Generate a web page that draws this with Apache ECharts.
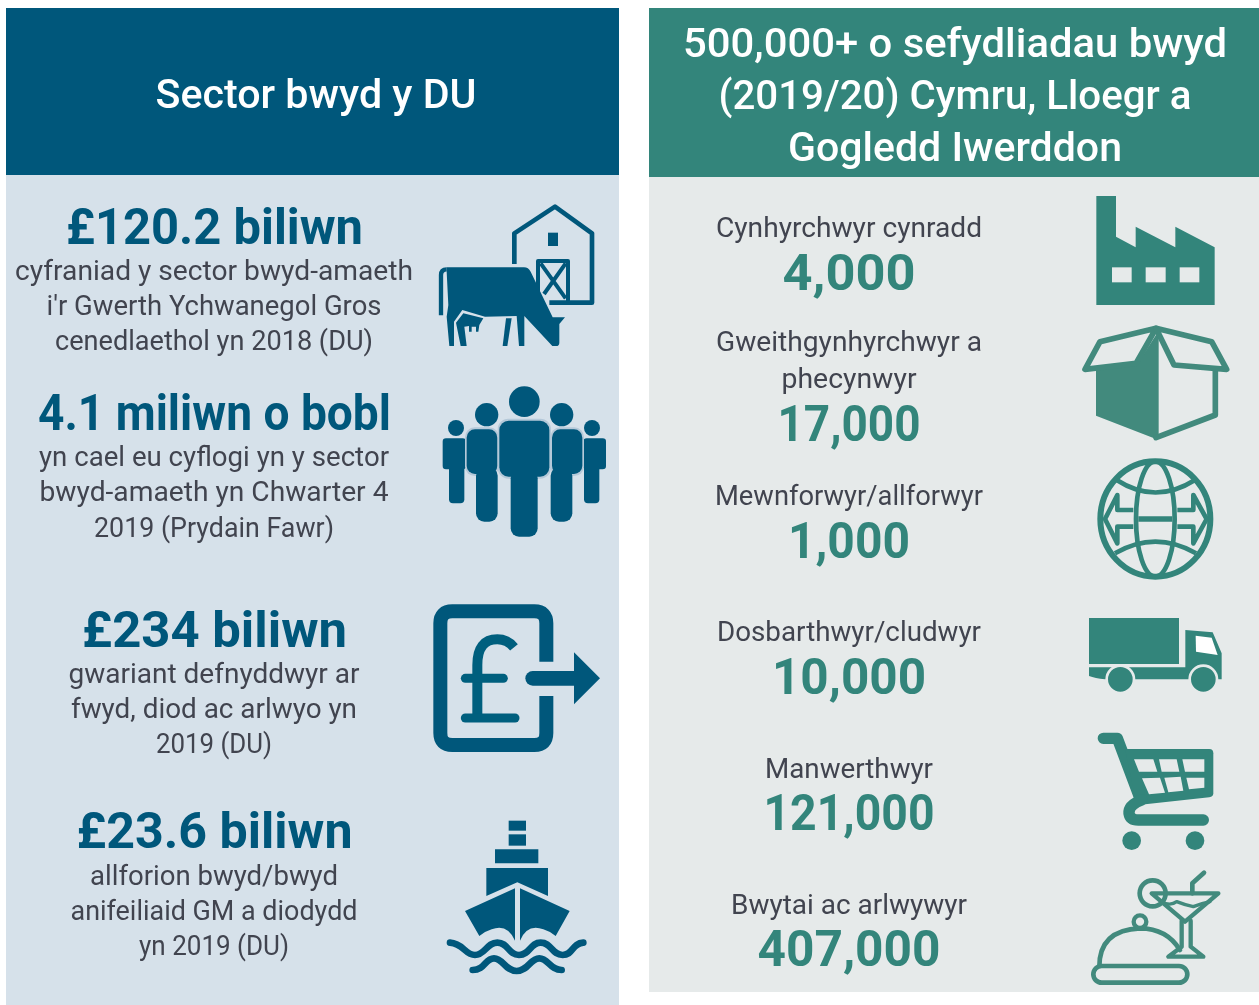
<!DOCTYPE html>
<html>
<head>
<meta charset="utf-8">
<style>
  html, body { margin: 0; padding: 0; background: #fff; }
  #chart { width: 1259px; height: 1005px; }
</style>
<script src="https://cdn.jsdelivr.net/npm/echarts@6/dist/echarts.min.js"></script>
</head>
<body>
<div id="chart"></div>
<script>
const leftTitle = 'Sector bwyd y DU';
const leftValues = ['£120.2 biliwn', '4.1 miliwn o bobl', '£234 biliwn', '£23.6 biliwn'];
const leftCaptions = [
  ['cyfraniad y sector bwyd-amaeth', "i'r Gwerth Ychwanegol Gros", 'cenedlaethol yn 2018 (DU)'],
  ['yn cael eu cyflogi yn y sector', 'bwyd-amaeth yn Chwarter 4', '2019 (Prydain Fawr)'],
  ['gwariant defnyddwyr ar', 'fwyd, diod ac arlwyo yn', '2019 (DU)'],
  ['allforion bwyd/bwyd', 'anifeiliaid GM a diodydd', 'yn 2019 (DU)']
];
const rightTitle = ['500,000+ o sefydliadau bwyd', '(2019/20) Cymru, Lloegr a', 'Gogledd Iwerddon'];
const rightLabels = [
  ['Cynhyrchwyr cynradd'],
  ['Gweithgynhyrchwyr a', 'phecynwyr'],
  ['Mewnforwyr/allforwyr'],
  ['Dosbarthwyr/cludwyr'],
  ['Manwerthwyr'],
  ['Bwytai ac arlwywyr']
];
const rightValues = [4000, 17000, 1000, 10000, 121000, 407000];

const BLUE = '#00577b';
const GREEN = '#33857b';
const GREEN2 = '#428a7d';
const LEFT_BG = '#d6e1ea';
const RIGHT_BG = '#e6eaea';
const GREY = '#41444f';
const FONT = 'Roboto';

// row layout
const leftValueY = [231, 417, 634, 835];
const leftCaptionY = [[273, 308, 343], [459, 494, 530], [676, 711, 746], [878, 913, 948]];
const rightLabelY = [[230], [344, 381], [498], [634], [771], [907]];
const rightValueY = [277, 428, 545, 681, 817, 953];

// ink widths of each line, the substitute font is squeezed to these
const leftTitleW = 321;
const rightTitleW = [544, 473, 334];
const leftValueW = [297, 353, 265, 276];
const leftCaptionW = [[398, 335, 318], [350, 349, 240], [291, 286, 116], [248, 287, 150]];
const rightLabelW = [[266], [266, 135], [268], [264], [168], [236]];
const rightValueW = [133, 143, 122, 154, 171, 183];

const measure = document.createElement('canvas').getContext('2d');

function txt(str, x, y, size, weight, color, targetW) {
  const font = weight + ' ' + size + 'px ' + FONT;
  measure.font = font;
  return {
    type: 'text', x: x, y: y, scaleX: targetW / measure.measureText(str).width, z: 5,
    style: { text: str, fill: color, font: font, textAlign: 'center', textVerticalAlign: 'middle' }
  };
}

const elements = [
  { type: 'rect', shape: { x: 6, y: 175, width: 613, height: 830 }, style: { fill: LEFT_BG } },
  { type: 'rect', shape: { x: 6, y: 8, width: 613, height: 167 }, style: { fill: BLUE } },
  { type: 'rect', shape: { x: 649, y: 177, width: 610, height: 815 }, style: { fill: RIGHT_BG } },
  { type: 'rect', shape: { x: 649, y: 8, width: 610, height: 169 }, style: { fill: GREEN } }
];

elements.push(txt(leftTitle, 316, 98, 41, 500, '#fff', leftTitleW));
rightTitle.forEach((t, i) => elements.push(txt(t, 955, 47 + i * 52, 41, 500, '#fff', rightTitleW[i])));
leftValues.forEach((t, i) => {
  elements.push(txt(t, 214.5, leftValueY[i], 50, 700, BLUE, leftValueW[i]));
  leftCaptions[i].forEach((c, j) => elements.push(txt(c, 214, leftCaptionY[i][j], 28, 400, GREY, leftCaptionW[i][j])));
});
rightLabels.forEach((lines, i) => {
  lines.forEach((l, j) => elements.push(txt(l, 849, rightLabelY[i][j], 28, 400, GREY, rightLabelW[i][j])));
  elements.push(txt(rightValues[i].toLocaleString('en-GB'), 849, rightValueY[i], 50, 700, GREEN, rightValueW[i]));
});

// icon helpers, coordinates are in the 3x space the icons were traced in
function fillP(d, color) {
  return { type: 'path', shape: { pathData: d }, style: { fill: color, stroke: null } };
}
function line(d, color, w, cap) {
  return { type: 'path', shape: { pathData: d }, style: { fill: null, stroke: color, lineWidth: w, lineCap: cap || 'round', lineJoin: 'round' } };
}
function circle(cx, cy, r, color) {
  return { type: 'circle', shape: { cx: cx, cy: cy, r: r }, style: { fill: color } };
}
function box(x, y, w, h, r, color, extra) {
  return { type: 'rect', shape: { x: x, y: y, width: w, height: h, r: r }, style: Object.assign({ fill: color }, extra || {}) };
}

function person(cx, headY, headR, bx, by, bw, bh, br, lx, lw, lh, lr, halo) {
  const parts = [];
  if (halo) parts.push(box(bx - 5, by - 6, bw + 10, bh + 12, br + 4, '#b5c9d9'));
  parts.push(circle(cx, headY, headR, BLUE));
  parts.push(box(lx, by + bh - 20, lw, lh + 20, lr, BLUE));
  parts.push(box(bx, by, bw, bh, br, BLUE));
  return parts;
}

const icons = [
  { x: 420, y: 190, children: [
    line('M283 222 V130 L405 50 L516 130 V338 H388', BLUE, 14, 'butt'),
    box(384, 128, 30, 40, 0, BLUE),
    line('M354 330 V213 H444 V338', BLUE, 12, 'butt'),
    line('M362 220 L437 325 M437 220 L372 312', BLUE, 12, 'butt'),
    fillP('M80 245 L85 345 L80 380 L88 468 L102 468 L102 395 L127 360 L195 380 L290 378 L297 468 L313 468 L313 378 L397 468 L408 468 Q418 468 418 458 L418 402 L435 382 L398 382 L332 245 Q325 232 312 232 L80 232 Z', BLUE),
    line('M63 376 V255 Q63 238 80 238', BLUE, 13, 'butt'),
    fillP('M108 398 L130 370 L190 385 L178 405 L175 425 L168 425 L168 410 L155 410 L155 425 L147 425 L147 408 L133 410 L140 468 L122 468 Z', BLUE),
    fillP('M258 385 L275 385 L262 468 L248 468 Z', BLUE)
  ] },
  { x: 420, y: 190, children: [].concat(
    person(108, 714, 24, 68, 745, 70, 93, 10, 87, 46, 102, 12, false),
    person(516, 714, 24, 490, 745, 68, 93, 10, 492, 46, 102, 12, false),
    person(200, 674, 35, 140, 718, 92, 134, 25, 168, 65, 143, 25, true),
    person(425, 674, 35, 396, 718, 91, 134, 25, 392, 65, 143, 25, true),
    person(313, 635, 46, 238, 692, 150, 168, 28, 272, 81, 180, 25, true)
  ) },
  { x: 420, y: 590, children: [
    line('M379 215 V100 Q379 64 343 64 H97 Q61 64 61 100 V429 Q61 465 97 465 H343 Q379 465 379 429 V318', BLUE, 42, 'butt'),
    line('M338 265 H470', BLUE, 44),
    fillP('M462 187 L540 265 L462 343 Z', BLUE),
    line('M282 172 Q262 148 232 148 Q172 148 172 225 V384', '#005f7e', 30, 'butt'),
    line('M136 265 H250', '#005f7e', 27),
    line('M136 384 H285', '#005f7e', 27)
  ] },
  { x: 420, y: 590, children: [
    box(266, 692, 52, 30, 0, BLUE),
    box(266, 733, 52, 34, 0, BLUE),
    box(225, 778, 130, 42, 0, BLUE),
    fillP('M199 834 H384 V918 L292 877 L199 918 Z', BLUE),
    fillP('M135 963 L285 895 V1052 Q262 1000 215 1018 Q195 1024 178 1038 Z', BLUE),
    fillP('M300 895 L449 963 L407 1038 Q390 1024 370 1018 Q322 1000 300 1052 Z', BLUE),
    line('M90 1058 C130 1060 135 1095 165 1095 C195 1095 200 1058 232 1058 C265 1058 265 1095 297 1095 C330 1095 330 1058 362 1058 C395 1058 395 1095 428 1095 C460 1095 455 1060 490 1058', BLUE, 20),
    line('M158 1140 C195 1140 195 1105 222 1105 C250 1105 255 1143 290 1143 C325 1143 330 1105 358 1105 C385 1105 390 1140 425 1140', BLUE, 20)
  ] },
  { x: 1070, y: 185, children: [
    fillP('M79 33 H138 V155 L197 187 V125 L316 187 V125 L434 187 V360 H79 Z', GREEN),
    box(126, 247, 59, 45, 0, RIGHT_BG),
    box(227, 247, 60, 45, 0, RIGHT_BG),
    box(329, 247, 59, 45, 0, RIGHT_BG)
  ] },
  { x: 1070, y: 185, children: [
    fillP('M78 555 L200 540 L258 450 L266 450 V762 L258 762 L78 692 Z', GREEN2),
    line('M436 555 V690 L258 758', GREEN2, 17),
    { type: 'path', shape: { pathData: 'M258 430 L90 470 L45 553 L198 535 Z' }, style: { fill: RIGHT_BG, stroke: GREEN2, lineWidth: 17, lineJoin: 'round' } },
    { type: 'path', shape: { pathData: 'M258 430 L425 470 L470 553 L312 540 Z' }, style: { fill: RIGHT_BG, stroke: GREEN2, lineWidth: 17, lineJoin: 'round' } }
  ] },
  { x: 1070, y: 185, children: [
    { type: 'ellipse', shape: { cx: 256, cy: 1002, rx: 165, ry: 173 }, style: { fill: null, stroke: GREEN, lineWidth: 18 } },
    { type: 'ellipse', shape: { cx: 256, cy: 1002, rx: 58, ry: 173 }, style: { fill: null, stroke: GREEN, lineWidth: 14 } },
    line('M205 1002 H307', GREEN, 16, 'butt'),
    line('M140 885 Q256 960 375 885', GREEN, 14, 'butt'),
    line('M135 1105 Q256 1035 378 1105', GREEN, 14, 'butt'),
    line('M190 975 H142 V930 L105 1002 L142 1075 V1025 H190', GREEN, 14, 'butt'),
    line('M322 975 H370 V930 L410 1002 L370 1075 V1025 H322', GREEN, 14, 'butt')
  ] },
  { x: 1070, y: 600, children: [
    box(57, 54, 270, 138, 0, GREEN),
    fillP('M57 202 H346 V90 L428 97 L455 160 V238 H358 H105 Q75 235 57 228 Z', GREEN),
    fillP('M377 107 L425 113 L443 165 L378 155 Z', '#fff'),
    { type: 'circle', shape: { cx: 151, cy: 238, r: 41 }, style: { fill: GREEN, stroke: RIGHT_BG, lineWidth: 8 } },
    { type: 'circle', shape: { cx: 400, cy: 238, r: 41 }, style: { fill: GREEN, stroke: RIGHT_BG, lineWidth: 8 } }
  ] },
  { x: 1070, y: 600, children: [
    line('M100 415 H142 L208 590', GREEN, 34),
    fillP('M165 447 H418 Q430 447 430 460 V580 Q430 590 418 592 L205 615 L195 590 Z', GREEN),
    line('M215 600 Q175 615 177 640 Q180 660 205 660 H400', GREEN, 34),
    fillP('M192 478 H250 L262 515 H207 Z M267 478 H320 L328 515 H275 Z M337 478 H403 V515 H345 Z', RIGHT_BG),
    fillP('M216 535 L270 533 L285 578 L237 583 Z M283 533 L332 530 L340 572 L295 577 Z M349 533 L403 533 V563 L357 568 Z', RIGHT_BG),
    circle(185, 722, 28, GREEN),
    circle(375, 722, 28, GREEN)
  ] },
  { x: 1070, y: 600, children: [
    line('M367 880 V850 L402 818', GREEN2, 14),
    { type: 'circle', shape: { cx: 248, cy: 880, r: 39 }, style: { fill: null, stroke: GREEN2, lineWidth: 14 } },
    line('M245 880 H445 L345 965 Z', GREEN2, 13),
    line('M275 905 Q300 920 320 905 Q345 915 370 920 Q395 910 420 905', GREEN2, 10),
    line('M335 962 V1040 L295 1070 H400 L362 1040 V962', GREEN2, 13),
    line('M88 1100 Q88 990 210 985 Q290 985 330 1050', GREEN2, 14),
    { type: 'circle', shape: { cx: 210, cy: 965, r: 19 }, style: { fill: null, stroke: GREEN2, lineWidth: 13 } },
    { type: 'rect', shape: { x: 70, y: 1098, width: 282, height: 50, r: 25 }, style: { fill: RIGHT_BG, stroke: GREEN2, lineWidth: 14 } }
  ] }
];

const chart = echarts.init(document.getElementById('chart'), null, { renderer: 'canvas' });

chart.setOption({
  animation: false,
  backgroundColor: '#fff',
  graphic: { elements: elements },
  series: [{
    type: 'custom',
    coordinateSystem: 'none',
    silent: true,
    z: 10,
    data: icons.map((d, i) => [i]),
    renderItem: function (params) {
      const ic = icons[params.dataIndex];
      return { type: 'group', x: ic.x, y: ic.y, scaleX: 1 / 3, scaleY: 1 / 3, children: ic.children };
    }
  }]
});
</script>
</body>
</html>
